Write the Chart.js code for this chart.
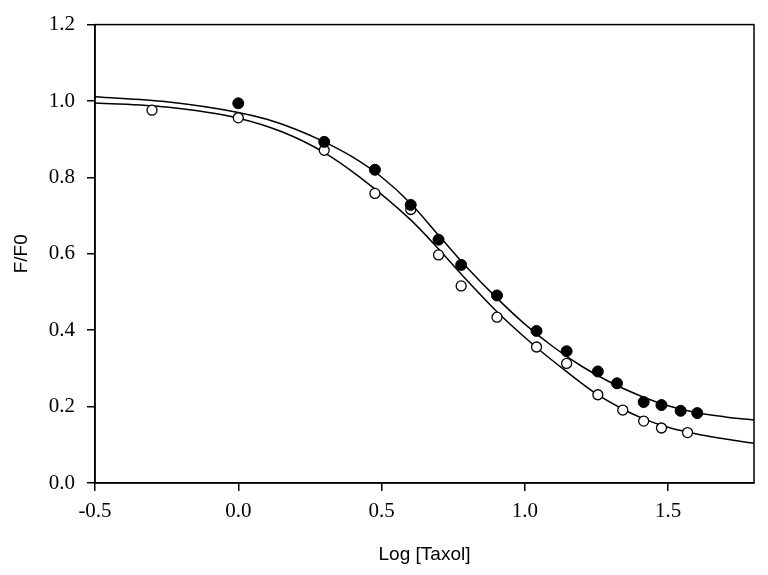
<!DOCTYPE html>
<html>
<head>
<meta charset="utf-8">
<script src="https://cdn.jsdelivr.net/npm/chart.js@4/dist/chart.umd.min.js"></script>
<style>
    html, body { margin: 0; padding: 0; background: #ffffff; }
</style>
</head>
<body>
<canvas id="chart" width="768" height="575"></canvas>
<script>
// measured points (log concentration, F/F0)
const filledX = [0.0, 0.30, 0.477, 0.602, 0.699, 0.778, 0.903, 1.041, 1.146, 1.255, 1.322, 1.415, 1.477, 1.544, 1.602];
const filledY = [0.994, 0.893, 0.820, 0.728, 0.637, 0.571, 0.491, 0.398, 0.345, 0.292, 0.261, 0.212, 0.204, 0.189, 0.183];

const openX = [-0.301, 0.0, 0.30, 0.477, 0.602, 0.699, 0.778, 0.903, 1.041, 1.146, 1.255, 1.342, 1.415, 1.477, 1.568];
const openY = [0.976, 0.956, 0.871, 0.758, 0.716, 0.597, 0.516, 0.434, 0.356, 0.313, 0.231, 0.191, 0.162, 0.144, 0.132];

// fitted curves
const upperX = [-0.5, -0.25, 0.0, 0.1, 0.2, 0.3, 0.4, 0.5, 0.6, 0.7, 0.8, 0.9, 1.0, 1.1, 1.2, 1.3, 1.4, 1.5, 1.6, 1.7, 1.8];
const upperY = [1.011, 0.998, 0.970, 0.952, 0.926, 0.893, 0.853, 0.801, 0.733, 0.648, 0.563, 0.486, 0.416, 0.356, 0.305, 0.263, 0.229, 0.202, 0.184, 0.173, 0.165];

const lowerX = [-0.5, -0.25, 0.0, 0.15, 0.3, 0.425, 0.6, 0.7, 0.773, 0.913, 1.039, 1.145, 1.25, 1.343, 1.415, 1.5, 1.6, 1.7, 1.8];
const lowerY = [0.995, 0.984, 0.955, 0.920, 0.865, 0.800, 0.690, 0.612, 0.551, 0.441, 0.356, 0.292, 0.233, 0.193, 0.168, 0.146, 0.128, 0.115, 0.104];

const xTicks = [-0.5, 0.0, 0.5, 1.0, 1.5];
const yTicks = [0.0, 0.2, 0.4, 0.6, 0.8, 1.0, 1.2];

function toPoints(xs, ys) {
    return xs.map((x, i) => ({ x: x, y: ys[i] }));
}

// box round the plot area
const frame = {
    id: 'frame',
    afterDraw(chart) {
        const a = chart.chartArea;
        const ctx = chart.ctx;
        ctx.save();
        ctx.strokeStyle = '#000';
        ctx.lineWidth = 1.5;
        ctx.strokeRect(a.left, a.top, a.right - a.left, a.bottom - a.top);
        ctx.restore();
    }
};

const tickFont = { family: '"Liberation Serif", "Times New Roman", serif', size: 21 };
const titleFont = { family: '"Liberation Sans", Arial, sans-serif', size: 19 };

new Chart(document.getElementById('chart').getContext('2d'), {
    type: 'scatter',
    data: {
        datasets: [
            {
                data: toPoints(filledX, filledY),
                pointRadius: 5.5,
                pointBackgroundColor: '#000',
                pointBorderColor: '#000',
                pointBorderWidth: 1,
                order: 0
            },
            {
                data: toPoints(openX, openY),
                pointRadius: 5,
                pointBackgroundColor: '#fff',
                pointBorderColor: '#000',
                pointBorderWidth: 1.3,
                order: 1
            },
            {
                data: toPoints(upperX, upperY),
                showLine: true,
                pointRadius: 0,
                borderColor: '#000',
                borderWidth: 1.5,
                cubicInterpolationMode: 'monotone',
                order: 2
            },
            {
                data: toPoints(lowerX, lowerY),
                showLine: true,
                pointRadius: 0,
                borderColor: '#000',
                borderWidth: 1.5,
                cubicInterpolationMode: 'monotone',
                order: 2
            }
        ]
    },
    options: {
        responsive: false,
        devicePixelRatio: 1,
        animation: false,
        layout: { padding: { top: 21, right: 14, left: 0, bottom: 0 } },
        plugins: {
            legend: { display: false },
            tooltip: { enabled: false }
        },
        scales: {
            x: {
                type: 'linear',
                min: -0.5,
                max: 1.8,
                afterBuildTicks: (scale) => { scale.ticks = xTicks.map(v => ({ value: v })); },
                afterFit: (scale) => { scale.height = 92; },
                ticks: {
                    color: '#000',
                    font: tickFont,
                    padding: 8,
                    maxRotation: 0,
                    callback: (v) => v.toFixed(1)
                },
                grid: { drawOnChartArea: false, tickLength: 8, color: '#000', lineWidth: 1.5 },
                border: { color: '#000', width: 1.5 },
                title: { display: true, text: 'Log [Taxol]', color: '#000', font: titleFont, padding: { top: 0, bottom: 9 } }
            },
            y: {
                type: 'linear',
                min: 0,
                max: 1.2,
                afterBuildTicks: (scale) => { scale.ticks = yTicks.map(v => ({ value: v })); },
                afterFit: (scale) => { scale.width = 95; },
                ticks: {
                    color: '#000',
                    font: tickFont,
                    padding: 12,
                    callback: (v) => v.toFixed(1)
                },
                grid: { drawOnChartArea: false, tickLength: 8, color: '#000', lineWidth: 1.5 },
                border: { color: '#000', width: 1.5 },
                title: { display: true, text: 'F/F0', color: '#000', font: titleFont, padding: { top: 10, bottom: 0 } }
            }
        }
    },
    plugins: [frame]
});
</script>
</body>
</html>
